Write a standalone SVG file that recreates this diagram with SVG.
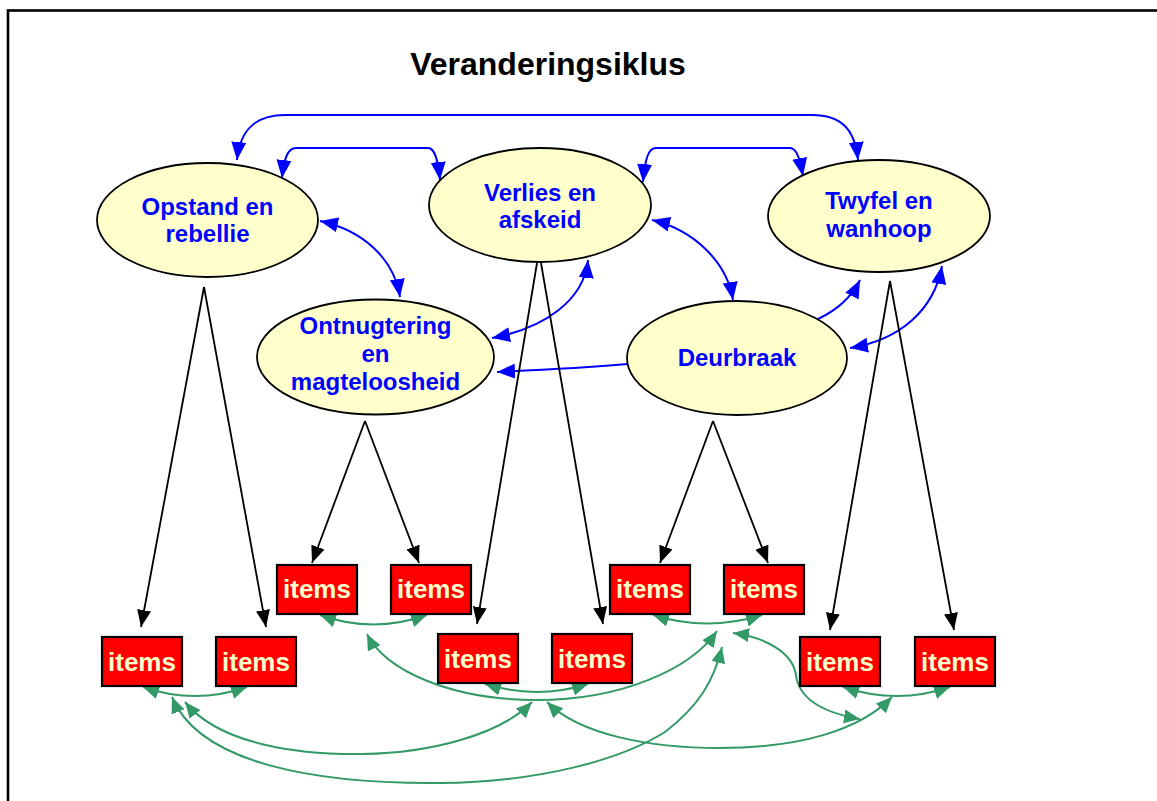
<svg xmlns="http://www.w3.org/2000/svg" width="1157" height="801" viewBox="0 0 1157 801">
  <style>
    .title { font-family: "Liberation Sans", Arial, sans-serif; font-weight: bold; font-size: 32px; fill: #000; }
    .stage ellipse { fill: #FFFFCC; stroke: #000; stroke-width: 1.8; }
    .stage text { font-family: "Liberation Sans", Arial, sans-serif; font-weight: bold; font-size: 24px; fill: #0000FF; text-anchor: middle; }
    .item rect { fill: #FF0000; stroke: #000; stroke-width: 2.2; }
    .item text { font-family: "Liberation Sans", Arial, sans-serif; font-weight: bold; font-size: 26px; fill: #FFFFCC; text-anchor: middle; }
    .blue { fill: none; stroke: #0000FF; stroke-width: 2; }
    .black { fill: none; stroke: #000; stroke-width: 1.8; marker-end: url(#headBlack); }
    .green { fill: none; stroke: #339966; stroke-width: 2; }
    .both-b { marker-start: url(#headBlue); marker-end: url(#headBlue); }
    .end-b { marker-end: url(#headBlue); }
    .both-g { marker-start: url(#headGreen); marker-end: url(#headGreen); }
  </style>
  <defs>
    <marker id="headBlue" markerUnits="userSpaceOnUse" markerWidth="19" markerHeight="16" refX="18" refY="7.5" orient="auto-start-reverse">
      <path d="M0,0 L18,7.5 L0,15 z" fill="#0000FF"/>
    </marker>
    <marker id="headBlack" markerUnits="userSpaceOnUse" markerWidth="18" markerHeight="15" refX="17" refY="7" orient="auto">
      <path d="M0,0 L17,7 L0,14 z" fill="#000"/>
    </marker>
    <marker id="headGreen" markerUnits="userSpaceOnUse" markerWidth="17" markerHeight="15" refX="16" refY="7" orient="auto-start-reverse">
      <path d="M0,0 L16,7 L0,14 z" fill="#339966"/>
    </marker>
  </defs>

  <rect width="1157" height="801" fill="#fff"/>
  <!-- page frame -->
  <rect x="8" y="10.5" width="1170" height="810" fill="none" stroke="#000" stroke-width="2.6"/>

  <text class="title" x="548" y="75" text-anchor="middle">Veranderingsiklus</text>

  <!-- connectors -->
  <g id="connectors">
    <!-- stage-to-stage links -->
    <path class="blue both-b" d="M237,160 C240,130 255,115 285,115 L812,115 C842,115 855,130 858,160"/>
    <path class="blue both-b" d="M282,178 C284,160 287,148 296,148 L428,148 C435,148 438,160 440,180"/>
    <path class="blue both-b" d="M643,182 C645,160 648,148 656,148 L790,148 C797,148 800,160 803,176"/>
    <path class="blue both-b" d="M320,221 C362,230 394,258 400,297"/>
    <path class="blue both-b" d="M652,220 C694,230 727,262 733,300"/>
    <path class="blue both-b" d="M492,338 C545,328 584,300 588,260"/>
    <path class="blue end-b" d="M628,364 C580,368 540,370 497,372"/>
    <path class="blue end-b" d="M818,319 C835,311 850,300 860,280"/>
    <path class="blue both-b" d="M942,266 C934,310 900,340 850,348"/>

    <!-- stage-to-item links -->
    <path class="black" d="M204,287 L141,627"/>
    <path class="black" d="M204,287 L266,627"/>
    <path class="black" d="M365,421 L312,563"/>
    <path class="black" d="M365,421 L419,563"/>
    <path class="black" d="M537,263 L477,624"/>
    <path class="black" d="M541,263 L603,624"/>
    <path class="black" d="M713,421 L660,563"/>
    <path class="black" d="M713,421 L768,563"/>
    <path class="black" d="M890,281 L830,630"/>
    <path class="black" d="M890,281 L954,630"/>

    <!-- item-to-item links -->
    <path class="green both-g" d="M143,687 Q195,705 247,687"/>
    <path class="green both-g" d="M320,615 Q373,634 427,615"/>
    <path class="green both-g" d="M653,615 Q707,632 762,615"/>
    <path class="green both-g" d="M485,684 Q537,700 588,684"/>
    <path class="green both-g" d="M843,687 Q897,705 950,687"/>
    <path class="green both-g" d="M367,634 C385,670 450,700 537,700 C620,700 690,670 717,631"/>
    <path class="green both-g" d="M185,702 C220,745 300,755 363,754 C430,753 500,735 532,702"/>
    <path class="green both-g" d="M172,697 C200,765 320,784 440,783 C540,782 620,760 665,732 C700,705 714,680 722,647"/>
    <path class="green both-g" d="M547,702 C580,735 650,748 720,748 C800,748 860,730 892,697"/>
    <path class="green both-g" d="M733,633 C770,638 793,655 796,675 C799,700 825,713 860,719"/>
  </g>

  <!-- stages -->
  <g id="opstand" class="stage">
    <ellipse cx="207.5" cy="220" rx="110.5" ry="57"/>
    <text x="207.5" y="215">Opstand en</text>
    <text x="207.5" y="242">rebellie</text>
  </g>
  <g id="verlies" class="stage">
    <ellipse cx="540" cy="205" rx="111" ry="57"/>
    <text x="540" y="201">Verlies en</text>
    <text x="540" y="228">afskeid</text>
  </g>
  <g id="twyfel" class="stage">
    <ellipse cx="879" cy="216" rx="111" ry="56"/>
    <text x="879" y="209">Twyfel en</text>
    <text x="879" y="237">wanhoop</text>
  </g>
  <g id="ontnugtering" class="stage">
    <ellipse cx="375.5" cy="357" rx="118.5" ry="57.5"/>
    <text x="375.5" y="334">Ontnugtering</text>
    <text x="375.5" y="362">en</text>
    <text x="375.5" y="390">magteloosheid</text>
  </g>
  <g id="deurbraak" class="stage">
    <ellipse cx="737" cy="358" rx="110" ry="57"/>
    <text x="737" y="366">Deurbraak</text>
  </g>

  <!-- items -->
  <g id="item-a1" class="item"><rect x="277" y="565" width="80" height="49"/><text x="317" y="598">items</text></g>
  <g id="item-a2" class="item"><rect x="391" y="565" width="80" height="49"/><text x="431" y="598">items</text></g>
  <g id="item-a3" class="item"><rect x="610" y="565" width="80" height="49"/><text x="650" y="598">items</text></g>
  <g id="item-a4" class="item"><rect x="724" y="565" width="80" height="49"/><text x="764" y="598">items</text></g>
  <g id="item-b1" class="item"><rect x="102" y="637" width="80" height="49"/><text x="142" y="671">items</text></g>
  <g id="item-b2" class="item"><rect x="216" y="637" width="80" height="49"/><text x="256" y="671">items</text></g>
  <g id="item-b3" class="item"><rect x="438" y="634" width="80" height="49"/><text x="478" y="668">items</text></g>
  <g id="item-b4" class="item"><rect x="552" y="634" width="80" height="49"/><text x="592" y="668">items</text></g>
  <g id="item-b5" class="item"><rect x="800" y="637" width="80" height="49"/><text x="840" y="671">items</text></g>
  <g id="item-b6" class="item"><rect x="915" y="637" width="80" height="49"/><text x="955" y="671">items</text></g>
</svg>
